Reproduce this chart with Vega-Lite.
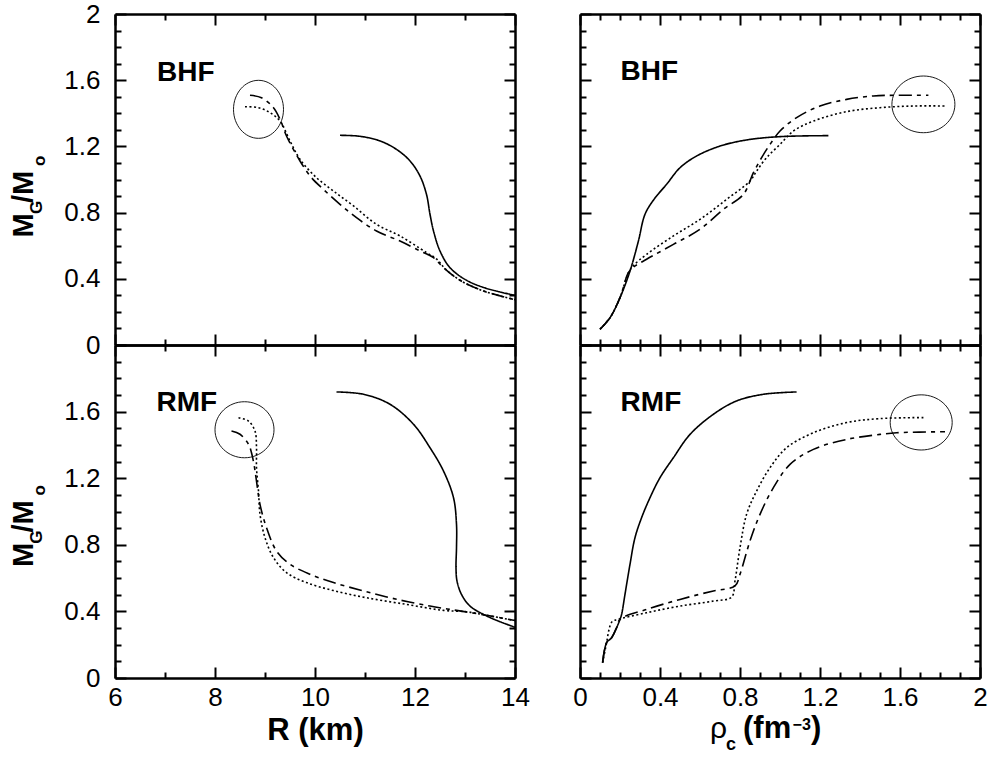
{
  "$schema": "https://vega.github.io/schema/vega-lite/v6.json",
  "padding": {"left": 10, "top": 1, "right": 5, "bottom": 5},
  "config": {
    "view": {"stroke": null},
    "axis": {"domainColor": "black", "domainWidth": 2.5, "tickColor": "black", "tickWidth": 2, "grid": false,
      "labelFont": "Liberation Sans", "labelFontSize": 26, "labelColor": "black", "labelFlush": false, "labelOverlap": false,
      "titleFont": "Liberation Sans", "titleFontSize": 31, "titleFontWeight": "bold", "titleColor": "black"},
    "text": {"font": "Liberation Sans", "color": "black"}
  },
  "datasets": {
    "bhfR": [
      {"c":"A","k":1,"R":10.5,"M":1.267},{"c":"A","k":2,"R":10.9,"M":1.261},{"c":"A","k":3,"R":11.3,"M":1.233},{"c":"A","k":4,"R":11.63,"M":1.182},{"c":"A","k":5,"R":11.9,"M":1.112},{"c":"A","k":6,"R":12.1,"M":1.021},{"c":"A","k":7,"R":12.23,"M":0.91},{"c":"A","k":8,"R":12.3,"M":0.79},{"c":"A","k":9,"R":12.37,"M":0.689},{"c":"A","k":10,"R":12.5,"M":0.568},{"c":"A","k":11,"R":12.7,"M":0.467},{"c":"A","k":12,"R":13.03,"M":0.391},{"c":"A","k":13,"R":13.43,"M":0.342},{"c":"A","k":14,"R":14.0,"M":0.3},
      {"c":"B","k":1,"R":8.7,"M":1.509},{"c":"B","k":2,"R":8.93,"M":1.494},{"c":"B","k":3,"R":9.17,"M":1.434},{"c":"B","k":4,"R":9.3,"M":1.364},{"c":"B","k":5,"R":9.43,"M":1.263},{"c":"B","k":6,"R":9.7,"M":1.112},{"c":"B","k":7,"R":9.93,"M":1.011},{"c":"B","k":8,"R":10.17,"M":0.94},{"c":"B","k":9,"R":10.5,"M":0.85},{"c":"B","k":10,"R":10.83,"M":0.769},{"c":"B","k":11,"R":11.23,"M":0.689},{"c":"B","k":12,"R":11.7,"M":0.628},{"c":"B","k":13,"R":12.1,"M":0.568},{"c":"B","k":14,"R":12.37,"M":0.528},{"c":"B","k":15,"R":12.57,"M":0.467},{"c":"B","k":16,"R":12.9,"M":0.391},{"c":"B","k":17,"R":13.37,"M":0.326},{"c":"B","k":18,"R":14.0,"M":0.274},
      {"c":"C","k":1,"R":8.6,"M":1.44},{"c":"C","k":2,"R":8.87,"M":1.434},{"c":"C","k":3,"R":9.1,"M":1.404},{"c":"C","k":4,"R":9.3,"M":1.353},{"c":"C","k":5,"R":9.5,"M":1.233},{"c":"C","k":6,"R":9.7,"M":1.122},{"c":"C","k":7,"R":10.03,"M":1.011},{"c":"C","k":8,"R":10.37,"M":0.93},{"c":"C","k":9,"R":10.77,"M":0.84},{"c":"C","k":10,"R":11.23,"M":0.729},{"c":"C","k":11,"R":11.7,"M":0.659},{"c":"C","k":12,"R":12.23,"M":0.558},{"c":"C","k":13,"R":12.43,"M":0.52},{"c":"C","k":14,"R":12.6,"M":0.462},{"c":"C","k":15,"R":12.9,"M":0.391},{"c":"C","k":16,"R":13.37,"M":0.326},{"c":"C","k":17,"R":14.0,"M":0.274}
    ],
    "bhfRho": [
      {"c":"A","k":1,"rho":0.1,"M":0.095},{"c":"A","k":2,"rho":0.15,"M":0.165},{"c":"A","k":3,"rho":0.2,"M":0.286},{"c":"A","k":4,"rho":0.25,"M":0.447},{"c":"A","k":5,"rho":0.292,"M":0.628},{"c":"A","k":6,"rho":0.325,"M":0.79},{"c":"A","k":7,"rho":0.37,"M":0.88},{"c":"A","k":8,"rho":0.433,"M":0.971},{"c":"A","k":9,"rho":0.5,"M":1.071},{"c":"A","k":10,"rho":0.583,"M":1.142},{"c":"A","k":11,"rho":0.7,"M":1.202},{"c":"A","k":12,"rho":0.833,"M":1.239},{"c":"A","k":13,"rho":1.0,"M":1.259},{"c":"A","k":14,"rho":1.242,"M":1.265},
      {"c":"B","k":1,"rho":0.1,"M":0.095},{"c":"B","k":2,"rho":0.15,"M":0.165},{"c":"B","k":3,"rho":0.2,"M":0.286},{"c":"B","k":4,"rho":0.242,"M":0.437},{"c":"B","k":5,"rho":0.267,"M":0.47},{"c":"B","k":6,"rho":0.333,"M":0.518},{"c":"B","k":7,"rho":0.467,"M":0.608},{"c":"B","k":8,"rho":0.6,"M":0.699},{"c":"B","k":9,"rho":0.717,"M":0.82},{"c":"B","k":10,"rho":0.817,"M":0.91},{"c":"B","k":11,"rho":0.867,"M":1.041},{"c":"B","k":12,"rho":0.908,"M":1.132},{"c":"B","k":13,"rho":0.95,"M":1.212},{"c":"B","k":14,"rho":1.0,"M":1.293},{"c":"B","k":15,"rho":1.083,"M":1.374},{"c":"B","k":16,"rho":1.2,"M":1.444},{"c":"B","k":17,"rho":1.333,"M":1.484},{"c":"B","k":18,"rho":1.467,"M":1.505},{"c":"B","k":19,"rho":1.583,"M":1.509},{"c":"B","k":20,"rho":1.742,"M":1.509},
      {"c":"C","k":1,"rho":0.1,"M":0.095},{"c":"C","k":2,"rho":0.15,"M":0.165},{"c":"C","k":3,"rho":0.2,"M":0.286},{"c":"C","k":4,"rho":0.242,"M":0.437},{"c":"C","k":5,"rho":0.267,"M":0.48},{"c":"C","k":6,"rho":0.333,"M":0.548},{"c":"C","k":7,"rho":0.467,"M":0.659},{"c":"C","k":8,"rho":0.6,"M":0.759},{"c":"C","k":9,"rho":0.733,"M":0.88},{"c":"C","k":10,"rho":0.85,"M":0.991},{"c":"C","k":11,"rho":0.883,"M":1.051},{"c":"C","k":12,"rho":0.933,"M":1.132},{"c":"C","k":13,"rho":1.0,"M":1.212},{"c":"C","k":14,"rho":1.067,"M":1.293},{"c":"C","k":15,"rho":1.167,"M":1.353},{"c":"C","k":16,"rho":1.333,"M":1.41},{"c":"C","k":17,"rho":1.5,"M":1.434},{"c":"C","k":18,"rho":1.667,"M":1.444},{"c":"C","k":19,"rho":1.833,"M":1.444}
    ],
    "rmfR": [
      {"c":"A","k":1,"R":10.43,"M":1.718},{"c":"A","k":2,"R":10.97,"M":1.704},{"c":"A","k":3,"R":11.5,"M":1.644},{"c":"A","k":4,"R":11.97,"M":1.524},{"c":"A","k":5,"R":12.3,"M":1.383},{"c":"A","k":6,"R":12.57,"M":1.243},{"c":"A","k":7,"R":12.77,"M":1.083},{"c":"A","k":8,"R":12.83,"M":0.923},{"c":"A","k":9,"R":12.83,"M":0.783},{"c":"A","k":10,"R":12.82,"M":0.663},{"c":"A","k":11,"R":12.84,"M":0.583},{"c":"A","k":12,"R":12.93,"M":0.502},{"c":"A","k":13,"R":13.1,"M":0.432},{"c":"A","k":14,"R":13.37,"M":0.382},{"c":"A","k":15,"R":13.7,"M":0.338},{"c":"A","k":16,"R":14.0,"M":0.305},
      {"c":"B","k":1,"R":8.33,"M":1.483},{"c":"B","k":2,"R":8.5,"M":1.464},{"c":"B","k":3,"R":8.67,"M":1.404},{"c":"B","k":4,"R":8.73,"M":1.353},{"c":"B","k":5,"R":8.78,"M":1.283},{"c":"B","k":6,"R":8.83,"M":1.183},{"c":"B","k":7,"R":8.9,"M":1.043},{"c":"B","k":8,"R":9.03,"M":0.903},{"c":"B","k":9,"R":9.23,"M":0.763},{"c":"B","k":10,"R":9.5,"M":0.683},{"c":"B","k":11,"R":9.9,"M":0.623},{"c":"B","k":12,"R":10.37,"M":0.573},{"c":"B","k":13,"R":10.97,"M":0.523},{"c":"B","k":14,"R":11.63,"M":0.473},{"c":"B","k":15,"R":12.3,"M":0.432},{"c":"B","k":16,"R":12.83,"M":0.406},{"c":"B","k":17,"R":13.37,"M":0.38},{"c":"B","k":18,"R":14.0,"M":0.345},
      {"c":"C","k":1,"R":8.47,"M":1.563},{"c":"C","k":2,"R":8.67,"M":1.543},{"c":"C","k":3,"R":8.8,"M":1.483},{"c":"C","k":4,"R":8.83,"M":1.383},{"c":"C","k":5,"R":8.83,"M":1.263},{"c":"C","k":6,"R":8.87,"M":1.123},{"c":"C","k":7,"R":8.9,"M":0.983},{"c":"C","k":8,"R":9.0,"M":0.843},{"c":"C","k":9,"R":9.17,"M":0.723},{"c":"C","k":10,"R":9.43,"M":0.633},{"c":"C","k":11,"R":9.83,"M":0.573},{"c":"C","k":12,"R":10.37,"M":0.525},{"c":"C","k":13,"R":11.03,"M":0.482},{"c":"C","k":14,"R":11.83,"M":0.442},{"c":"C","k":15,"R":12.57,"M":0.406},{"c":"C","k":16,"R":13.03,"M":0.398},{"c":"C","k":17,"R":13.37,"M":0.38},{"c":"C","k":18,"R":14.0,"M":0.345}
    ],
    "rmfRho": [
      {"c":"A","k":1,"rho":0.113,"M":0.092},{"c":"A","k":2,"rho":0.133,"M":0.212},{"c":"A","k":3,"rho":0.158,"M":0.242},{"c":"A","k":4,"rho":0.183,"M":0.302},{"c":"A","k":5,"rho":0.2,"M":0.352},{"c":"A","k":6,"rho":0.208,"M":0.382},{"c":"A","k":7,"rho":0.225,"M":0.503},{"c":"A","k":8,"rho":0.25,"M":0.683},{"c":"A","k":9,"rho":0.275,"M":0.843},{"c":"A","k":10,"rho":0.308,"M":0.963},{"c":"A","k":11,"rho":0.35,"M":1.083},{"c":"A","k":12,"rho":0.4,"M":1.203},{"c":"A","k":13,"rho":0.467,"M":1.323},{"c":"A","k":14,"rho":0.55,"M":1.463},{"c":"A","k":15,"rho":0.667,"M":1.584},{"c":"A","k":16,"rho":0.783,"M":1.664},{"c":"A","k":17,"rho":0.917,"M":1.704},{"c":"A","k":18,"rho":1.083,"M":1.718},
      {"c":"B","k":1,"rho":0.113,"M":0.092},{"c":"B","k":2,"rho":0.133,"M":0.212},{"c":"B","k":3,"rho":0.158,"M":0.242},{"c":"B","k":4,"rho":0.183,"M":0.302},{"c":"B","k":5,"rho":0.2,"M":0.352},{"c":"B","k":6,"rho":0.333,"M":0.412},{"c":"B","k":7,"rho":0.5,"M":0.472},{"c":"B","k":8,"rho":0.667,"M":0.523},{"c":"B","k":9,"rho":0.775,"M":0.553},{"c":"B","k":10,"rho":0.8,"M":0.623},{"c":"B","k":11,"rho":0.85,"M":0.823},{"c":"B","k":12,"rho":0.9,"M":0.983},{"c":"B","k":13,"rho":0.967,"M":1.143},{"c":"B","k":14,"rho":1.05,"M":1.283},{"c":"B","k":15,"rho":1.167,"M":1.373},{"c":"B","k":16,"rho":1.333,"M":1.433},{"c":"B","k":17,"rho":1.5,"M":1.463},{"c":"B","k":18,"rho":1.583,"M":1.473},{"c":"B","k":19,"rho":1.825,"M":1.479},
      {"c":"C","k":1,"rho":0.113,"M":0.092},{"c":"C","k":2,"rho":0.133,"M":0.212},{"c":"C","k":3,"rho":0.145,"M":0.29},{"c":"C","k":4,"rho":0.16,"M":0.338},{"c":"C","k":5,"rho":0.19,"M":0.352},{"c":"C","k":6,"rho":0.333,"M":0.392},{"c":"C","k":7,"rho":0.5,"M":0.432},{"c":"C","k":8,"rho":0.667,"M":0.462},{"c":"C","k":9,"rho":0.758,"M":0.486},{"c":"C","k":10,"rho":0.775,"M":0.583},{"c":"C","k":11,"rho":0.8,"M":0.783},{"c":"C","k":12,"rho":0.833,"M":0.983},{"c":"C","k":13,"rho":0.883,"M":1.123},{"c":"C","k":14,"rho":0.95,"M":1.263},{"c":"C","k":15,"rho":1.033,"M":1.383},{"c":"C","k":16,"rho":1.167,"M":1.473},{"c":"C","k":17,"rho":1.333,"M":1.534},{"c":"C","k":18,"rho":1.5,"M":1.558},{"c":"C","k":19,"rho":1.725,"M":1.564}
    ]
  },
  "columns": 2,
  "bounds": "flush",
  "spacing": {"row": 0, "column": 65},
  "concat": [
    {
      "width": 400, "height": 331,
      "resolve": {"axis": {"x": "independent", "y": "independent"}},
      "layer": [
        {
          "data": {"name": "bhfR"},
          "mark": {"type": "line", "strokeWidth": 1.6, "color": "black", "interpolate": "catmull-rom"},
          "encoding": {
            "x": {"field": "R", "type": "quantitative", "scale": {"domain": [6, 14], "nice": false, "zero": false},
              "axis": {"orient": "bottom", "values": [6,7,8,9,10,11,12,13,14], "tickSize": {"condition": {"test": "datum.value % 2 == 0", "value": -11}, "value": -6}, "labels": false, "title": null}},
            "y": {"field": "M", "type": "quantitative", "scale": {"domain": [0, 2], "nice": false, "zero": false},
              "axis": {"orient": "left", "values": [0,0.1,0.2,0.3,0.4,0.5,0.6,0.7,0.8,0.9,1,1.1,1.2,1.3,1.4,1.5,1.6,1.7,1.8,1.9,2], "tickSize": {"condition": {"test": "round(datum.value*10) % 4 == 0", "value": -11}, "value": -6}, "labelExpr": "round(datum.value*10) % 4 == 0 ? format(datum.value, '~g') : ''", "labelPadding": 26, "title": null}},
            "strokeDash": {"field": "c", "type": "nominal", "scale": {"domain": ["A","B","C"], "range": [[1,0],[13,5,4,5],[2,2.5]]}, "legend": null},
            "order": {"field": "k", "type": "quantitative"}
          }
        },
        {
          "data": {"values": [{"R": 8.87, "M": 1.424}]},
          "mark": {"type": "point", "shape": "M-1,0A1,1.16 0 1,0 1,0A1,1.16 0 1,0 -1,0Z", "size": 2500, "filled": false, "stroke": "black", "strokeWidth": 0.9, "opacity": 1},
          "encoding": {
            "x": {"field": "R", "type": "quantitative", "scale": {"domain": [6, 14], "nice": false, "zero": false},
              "axis": {"orient": "top", "values": [6,7,8,9,10,11,12,13,14], "tickSize": {"condition": {"test": "datum.value % 2 == 0", "value": -11}, "value": -6}, "labels": false, "title": null}},
            "y": {"field": "M", "type": "quantitative", "scale": {"domain": [0, 2], "nice": false, "zero": false},
              "axis": {"orient": "right", "values": [0,0.1,0.2,0.3,0.4,0.5,0.6,0.7,0.8,0.9,1,1.1,1.2,1.3,1.4,1.5,1.6,1.7,1.8,1.9,2], "tickSize": {"condition": {"test": "round(datum.value*10) % 4 == 0", "value": -11}, "value": -6}, "labels": false, "title": null}}
          }
        },
        {
          "data": {"values": [{"R": 6.84, "M": 1.595, "t": "BHF"}]},
          "mark": {"type": "text", "align": "left", "baseline": "alphabetic", "fontSize": 28, "fontWeight": "bold"},
          "encoding": {
            "x": {"field": "R", "type": "quantitative", "scale": {"domain": [6, 14], "nice": false, "zero": false}, "axis": null},
            "y": {"field": "M", "type": "quantitative", "scale": {"domain": [0, 2], "nice": false, "zero": false}, "axis": null},
            "text": {"field": "t"}
          }
        },
        {
          "data": {"values": [{"R": 4.366, "M": 0.65, "t": "M"}, {"R": 4.366, "M": 0.858, "t": "/M"}]},
          "mark": {"type": "text", "align": "left", "baseline": "alphabetic", "angle": 270, "fontSize": 29, "fontWeight": "bold"},
          "encoding": {
            "x": {"field": "R", "type": "quantitative", "scale": {"domain": [6, 14], "nice": false, "zero": false}, "axis": null},
            "y": {"field": "M", "type": "quantitative", "scale": {"domain": [0, 2], "nice": false, "zero": false}, "axis": null},
            "text": {"field": "t"}
          }
        },
        {
          "data": {"values": [{"R": 4.534, "M": 0.792, "t": "G"}, {"R": 4.6, "M": 1.082, "t": "o"}]},
          "mark": {"type": "text", "align": "left", "baseline": "alphabetic", "angle": 270, "fontSize": 17, "fontWeight": "bold"},
          "encoding": {
            "x": {"field": "R", "type": "quantitative", "scale": {"domain": [6, 14], "nice": false, "zero": false}, "axis": null},
            "y": {"field": "M", "type": "quantitative", "scale": {"domain": [0, 2], "nice": false, "zero": false}, "axis": null},
            "text": {"field": "t"}
          }
        }
      ]
    },
    {
      "width": 400, "height": 331,
      "resolve": {"axis": {"x": "independent", "y": "independent"}},
      "layer": [
        {
          "data": {"name": "bhfRho"},
          "mark": {"type": "line", "strokeWidth": 1.6, "color": "black", "interpolate": "catmull-rom"},
          "encoding": {
            "x": {"field": "rho", "type": "quantitative", "scale": {"domain": [0, 2], "nice": false, "zero": false},
              "axis": {"orient": "bottom", "values": [0,0.1,0.2,0.3,0.4,0.5,0.6,0.7,0.8,0.9,1,1.1,1.2,1.3,1.4,1.5,1.6,1.7,1.8,1.9,2], "tickSize": {"condition": {"test": "round(datum.value*10) % 4 == 0", "value": -11}, "value": -6}, "labels": false, "title": null}},
            "y": {"field": "M", "type": "quantitative", "scale": {"domain": [0, 2], "nice": false, "zero": false},
              "axis": {"orient": "left", "values": [0,0.1,0.2,0.3,0.4,0.5,0.6,0.7,0.8,0.9,1,1.1,1.2,1.3,1.4,1.5,1.6,1.7,1.8,1.9,2], "tickSize": {"condition": {"test": "round(datum.value*10) % 4 == 0", "value": -11}, "value": -6}, "labels": false, "title": null}},
            "strokeDash": {"field": "c", "type": "nominal", "scale": {"domain": ["A","B","C"], "range": [[1,0],[13,5,4,5],[2,2.5]]}, "legend": null},
            "order": {"field": "k", "type": "quantitative"}
          }
        },
        {
          "data": {"values": [{"rho": 1.717, "M": 1.454}]},
          "mark": {"type": "point", "shape": "M-1,0A1,0.9 0 1,0 1,0A1,0.9 0 1,0 -1,0Z", "size": 3969, "filled": false, "stroke": "black", "strokeWidth": 0.9, "opacity": 1},
          "encoding": {
            "x": {"field": "rho", "type": "quantitative", "scale": {"domain": [0, 2], "nice": false, "zero": false},
              "axis": {"orient": "top", "values": [0,0.1,0.2,0.3,0.4,0.5,0.6,0.7,0.8,0.9,1,1.1,1.2,1.3,1.4,1.5,1.6,1.7,1.8,1.9,2], "tickSize": {"condition": {"test": "round(datum.value*10) % 4 == 0", "value": -11}, "value": -6}, "labels": false, "title": null}},
            "y": {"field": "M", "type": "quantitative", "scale": {"domain": [0, 2], "nice": false, "zero": false},
              "axis": {"orient": "right", "values": [0,0.1,0.2,0.3,0.4,0.5,0.6,0.7,0.8,0.9,1,1.1,1.2,1.3,1.4,1.5,1.6,1.7,1.8,1.9,2], "tickSize": {"condition": {"test": "round(datum.value*10) % 4 == 0", "value": -11}, "value": -6}, "labels": false, "title": null}}
          }
        },
        {
          "data": {"values": [{"rho": 0.203, "M": 1.601, "t": "BHF"}]},
          "mark": {"type": "text", "align": "left", "baseline": "alphabetic", "fontSize": 28, "fontWeight": "bold"},
          "encoding": {
            "x": {"field": "rho", "type": "quantitative", "scale": {"domain": [0, 2], "nice": false, "zero": false}, "axis": null},
            "y": {"field": "M", "type": "quantitative", "scale": {"domain": [0, 2], "nice": false, "zero": false}, "axis": null},
            "text": {"field": "t"}
          }
        }
      ]
    },
    {
      "width": 400, "height": 333,
      "resolve": {"axis": {"x": "independent", "y": "independent"}},
      "layer": [
        {
          "data": {"name": "rmfR"},
          "mark": {"type": "line", "strokeWidth": 1.6, "color": "black", "interpolate": "catmull-rom"},
          "encoding": {
            "x": {"field": "R", "type": "quantitative", "scale": {"domain": [6, 14], "nice": false, "zero": false},
              "axis": {"orient": "bottom", "values": [6,7,8,9,10,11,12,13,14], "tickSize": {"condition": {"test": "datum.value % 2 == 0", "value": -11}, "value": -6}, "labelExpr": "datum.value % 2 == 0 ? datum.label : ''", "labelPadding": 17, "title": "R (km)", "titlePadding": 0}},
            "y": {"field": "M", "type": "quantitative", "scale": {"domain": [0, 2], "nice": false, "zero": false},
              "axis": {"orient": "left", "values": [0,0.1,0.2,0.3,0.4,0.5,0.6,0.7,0.8,0.9,1,1.1,1.2,1.3,1.4,1.5,1.6,1.7,1.8,1.9,2], "tickSize": {"condition": {"test": "round(datum.value*10) % 4 == 0", "value": -11}, "value": -6}, "labelExpr": "round(datum.value*10) % 4 == 0 && datum.value < 1.95 ? format(datum.value, '~g') : ''", "labelPadding": 26, "title": null}},
            "strokeDash": {"field": "c", "type": "nominal", "scale": {"domain": ["A","B","C"], "range": [[1,0],[13,5,4,5],[2,2.5]]}, "legend": null},
            "order": {"field": "k", "type": "quantitative"}
          }
        },
        {
          "data": {"values": [{"R": 8.59, "M": 1.491}]},
          "mark": {"type": "point", "shape": "M-1,0A1,0.95 0 1,0 1,0A1,0.95 0 1,0 -1,0Z", "size": 3481, "filled": false, "stroke": "black", "strokeWidth": 0.9, "opacity": 1},
          "encoding": {
            "x": {"field": "R", "type": "quantitative", "scale": {"domain": [6, 14], "nice": false, "zero": false},
              "axis": {"orient": "top", "values": [6,7,8,9,10,11,12,13,14], "tickSize": {"condition": {"test": "datum.value % 2 == 0", "value": -11}, "value": -6}, "labels": false, "title": null}},
            "y": {"field": "M", "type": "quantitative", "scale": {"domain": [0, 2], "nice": false, "zero": false},
              "axis": {"orient": "right", "values": [0,0.1,0.2,0.3,0.4,0.5,0.6,0.7,0.8,0.9,1,1.1,1.2,1.3,1.4,1.5,1.6,1.7,1.8,1.9,2], "tickSize": {"condition": {"test": "round(datum.value*10) % 4 == 0", "value": -11}, "value": -6}, "labels": false, "title": null}}
          }
        },
        {
          "data": {"values": [{"R": 6.83, "M": 1.604, "t": "RMF"}]},
          "mark": {"type": "text", "align": "left", "baseline": "alphabetic", "fontSize": 28, "fontWeight": "bold"},
          "encoding": {
            "x": {"field": "R", "type": "quantitative", "scale": {"domain": [6, 14], "nice": false, "zero": false}, "axis": null},
            "y": {"field": "M", "type": "quantitative", "scale": {"domain": [0, 2], "nice": false, "zero": false}, "axis": null},
            "text": {"field": "t"}
          }
        },
        {
          "data": {"values": [{"R": 4.366, "M": 0.667, "t": "M"}, {"R": 4.366, "M": 0.874, "t": "/M"}]},
          "mark": {"type": "text", "align": "left", "baseline": "alphabetic", "angle": 270, "fontSize": 29, "fontWeight": "bold"},
          "encoding": {
            "x": {"field": "R", "type": "quantitative", "scale": {"domain": [6, 14], "nice": false, "zero": false}, "axis": null},
            "y": {"field": "M", "type": "quantitative", "scale": {"domain": [0, 2], "nice": false, "zero": false}, "axis": null},
            "text": {"field": "t"}
          }
        },
        {
          "data": {"values": [{"R": 4.534, "M": 0.807, "t": "G"}, {"R": 4.6, "M": 1.096, "t": "o"}]},
          "mark": {"type": "text", "align": "left", "baseline": "alphabetic", "angle": 270, "fontSize": 17, "fontWeight": "bold"},
          "encoding": {
            "x": {"field": "R", "type": "quantitative", "scale": {"domain": [6, 14], "nice": false, "zero": false}, "axis": null},
            "y": {"field": "M", "type": "quantitative", "scale": {"domain": [0, 2], "nice": false, "zero": false}, "axis": null},
            "text": {"field": "t"}
          }
        }
      ]
    },
    {
      "width": 400, "height": 333,
      "resolve": {"axis": {"x": "independent", "y": "independent"}},
      "layer": [
        {
          "data": {"name": "rmfRho"},
          "mark": {"type": "line", "strokeWidth": 1.6, "color": "black", "interpolate": "catmull-rom"},
          "encoding": {
            "x": {"field": "rho", "type": "quantitative", "scale": {"domain": [0, 2], "nice": false, "zero": false},
              "axis": {"orient": "bottom", "values": [0,0.1,0.2,0.3,0.4,0.5,0.6,0.7,0.8,0.9,1,1.1,1.2,1.3,1.4,1.5,1.6,1.7,1.8,1.9,2], "tickSize": {"condition": {"test": "round(datum.value*10) % 4 == 0", "value": -11}, "value": -6}, "labelExpr": "round(datum.value*10) % 4 == 0 ? format(datum.value, '~g') : ''", "labelPadding": 17, "title": null}},
            "y": {"field": "M", "type": "quantitative", "scale": {"domain": [0, 2], "nice": false, "zero": false},
              "axis": {"orient": "left", "values": [0,0.1,0.2,0.3,0.4,0.5,0.6,0.7,0.8,0.9,1,1.1,1.2,1.3,1.4,1.5,1.6,1.7,1.8,1.9,2], "tickSize": {"condition": {"test": "round(datum.value*10) % 4 == 0", "value": -11}, "value": -6}, "labels": false, "title": null}},
            "strokeDash": {"field": "c", "type": "nominal", "scale": {"domain": ["A","B","C"], "range": [[1,0],[13,5,4,5],[2,2.5]]}, "legend": null},
            "order": {"field": "k", "type": "quantitative"}
          }
        },
        {
          "data": {"values": [{"rho": 1.706, "M": 1.535}]},
          "mark": {"type": "point", "shape": "M-1,0A1,0.89 0 1,0 1,0A1,0.89 0 1,0 -1,0Z", "size": 3844, "filled": false, "stroke": "black", "strokeWidth": 0.9, "opacity": 1},
          "encoding": {
            "x": {"field": "rho", "type": "quantitative", "scale": {"domain": [0, 2], "nice": false, "zero": false},
              "axis": {"orient": "top", "values": [0,0.1,0.2,0.3,0.4,0.5,0.6,0.7,0.8,0.9,1,1.1,1.2,1.3,1.4,1.5,1.6,1.7,1.8,1.9,2], "tickSize": {"condition": {"test": "round(datum.value*10) % 4 == 0", "value": -11}, "value": -6}, "labels": false, "title": null}},
            "y": {"field": "M", "type": "quantitative", "scale": {"domain": [0, 2], "nice": false, "zero": false},
              "axis": {"orient": "right", "values": [0,0.1,0.2,0.3,0.4,0.5,0.6,0.7,0.8,0.9,1,1.1,1.2,1.3,1.4,1.5,1.6,1.7,1.8,1.9,2], "tickSize": {"condition": {"test": "round(datum.value*10) % 4 == 0", "value": -11}, "value": -6}, "labels": false, "title": null}}
          }
        },
        {
          "data": {"values": [{"rho": 0.203, "M": 1.604, "t": "RMF"}]},
          "mark": {"type": "text", "align": "left", "baseline": "alphabetic", "fontSize": 28, "fontWeight": "bold"},
          "encoding": {
            "x": {"field": "rho", "type": "quantitative", "scale": {"domain": [0, 2], "nice": false, "zero": false}, "axis": null},
            "y": {"field": "M", "type": "quantitative", "scale": {"domain": [0, 2], "nice": false, "zero": false}, "axis": null},
            "text": {"field": "t"}
          }
        },
        {
          "data": {"values": [{"rho": 0.65, "M": -0.362, "t": "ρ"}]},
          "mark": {"type": "text", "align": "left", "baseline": "alphabetic", "fontSize": 30, "fontWeight": "normal"},
          "encoding": {
            "x": {"field": "rho", "type": "quantitative", "scale": {"domain": [0, 2], "nice": false, "zero": false}, "axis": null},
            "y": {"field": "M", "type": "quantitative", "scale": {"domain": [0, 2], "nice": false, "zero": false}, "axis": null},
            "text": {"field": "t"}
          }
        },
        {
          "data": {"values": [{"rho": 0.815, "M": -0.362, "t": "(fm"}, {"rho": 1.155, "M": -0.362, "t": ")"}]},
          "mark": {"type": "text", "align": "left", "baseline": "alphabetic", "fontSize": 31, "fontWeight": "bold"},
          "encoding": {
            "x": {"field": "rho", "type": "quantitative", "scale": {"domain": [0, 2], "nice": false, "zero": false}, "axis": null},
            "y": {"field": "M", "type": "quantitative", "scale": {"domain": [0, 2], "nice": false, "zero": false}, "axis": null},
            "text": {"field": "t"}
          }
        },
        {
          "data": {"values": [{"rho": 0.73, "M": -0.434, "t": "c"}]},
          "mark": {"type": "text", "align": "left", "baseline": "alphabetic", "fontSize": 18, "fontWeight": "bold"},
          "encoding": {
            "x": {"field": "rho", "type": "quantitative", "scale": {"domain": [0, 2], "nice": false, "zero": false}, "axis": null},
            "y": {"field": "M", "type": "quantitative", "scale": {"domain": [0, 2], "nice": false, "zero": false}, "axis": null},
            "text": {"field": "t"}
          }
        },
        {
          "data": {"values": [{"rho": 1.063, "M": -0.312, "t": "−3"}]},
          "mark": {"type": "text", "align": "left", "baseline": "alphabetic", "fontSize": 16, "fontWeight": "bold"},
          "encoding": {
            "x": {"field": "rho", "type": "quantitative", "scale": {"domain": [0, 2], "nice": false, "zero": false}, "axis": null},
            "y": {"field": "M", "type": "quantitative", "scale": {"domain": [0, 2], "nice": false, "zero": false}, "axis": null},
            "text": {"field": "t"}
          }
        }
      ]
    }
  ]
}
